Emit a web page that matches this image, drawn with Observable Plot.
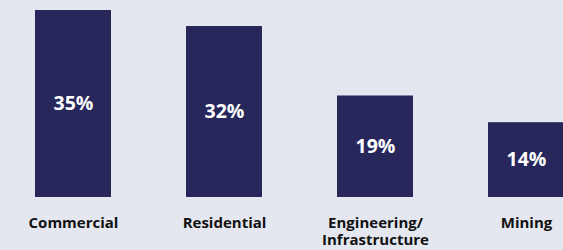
<!DOCTYPE html>
<html>
<head>
<meta charset="utf-8">
<script src="https://cdn.jsdelivr.net/npm/d3@7"></script>
<script src="https://cdn.jsdelivr.net/npm/@observablehq/plot@0.6"></script>
<style>
  html, body { margin: 0; padding: 0; background: #e4e7ef; overflow: hidden; }
  #chart { width: 563px; height: 250px; }
</style>
</head>
<body>
<div id="chart"></div>
<script>
const categories = ["Commercial", "Residential", "Engineering/\nInfrastructure", "Mining"];
const shares = [35, 32, 19, 14];
const valueLabels = ["35%", "32%", "19%", "14%"];

const data = categories.map((c, i) => ({category: c, value: shares[i], label: valueLabels[i]}));

const chart = Plot.plot({
  width: 563,
  height: 250,
  margin: 0,
  style: {background: "#e4e7ef", fontFamily: "'Open Sans', Lato, sans-serif", overflow: "hidden"},
  x: {domain: categories, range: [-2.5, 601.5], paddingInner: 0.4967, paddingOuter: 0.2483, axis: null},
  y: {domain: [0, 35], range: [197, 10], axis: null},
  marks: [
    Plot.barY(data, {x: "category", y: "value", fill: "#28275c"}),
    Plot.text(data, {x: "category", y: d => d.value / 2, text: "label", fill: "white", fontWeight: "bold", fontSize: 19.5}),
    Plot.text(data, {x: "category", y: 0, text: "category", lineAnchor: "top", dy: 19, fill: "#111", fontWeight: "bold", fontSize: 15, lineHeight: 1.12})
  ]
});
document.getElementById("chart").appendChild(chart);
</script>
</body>
</html>
